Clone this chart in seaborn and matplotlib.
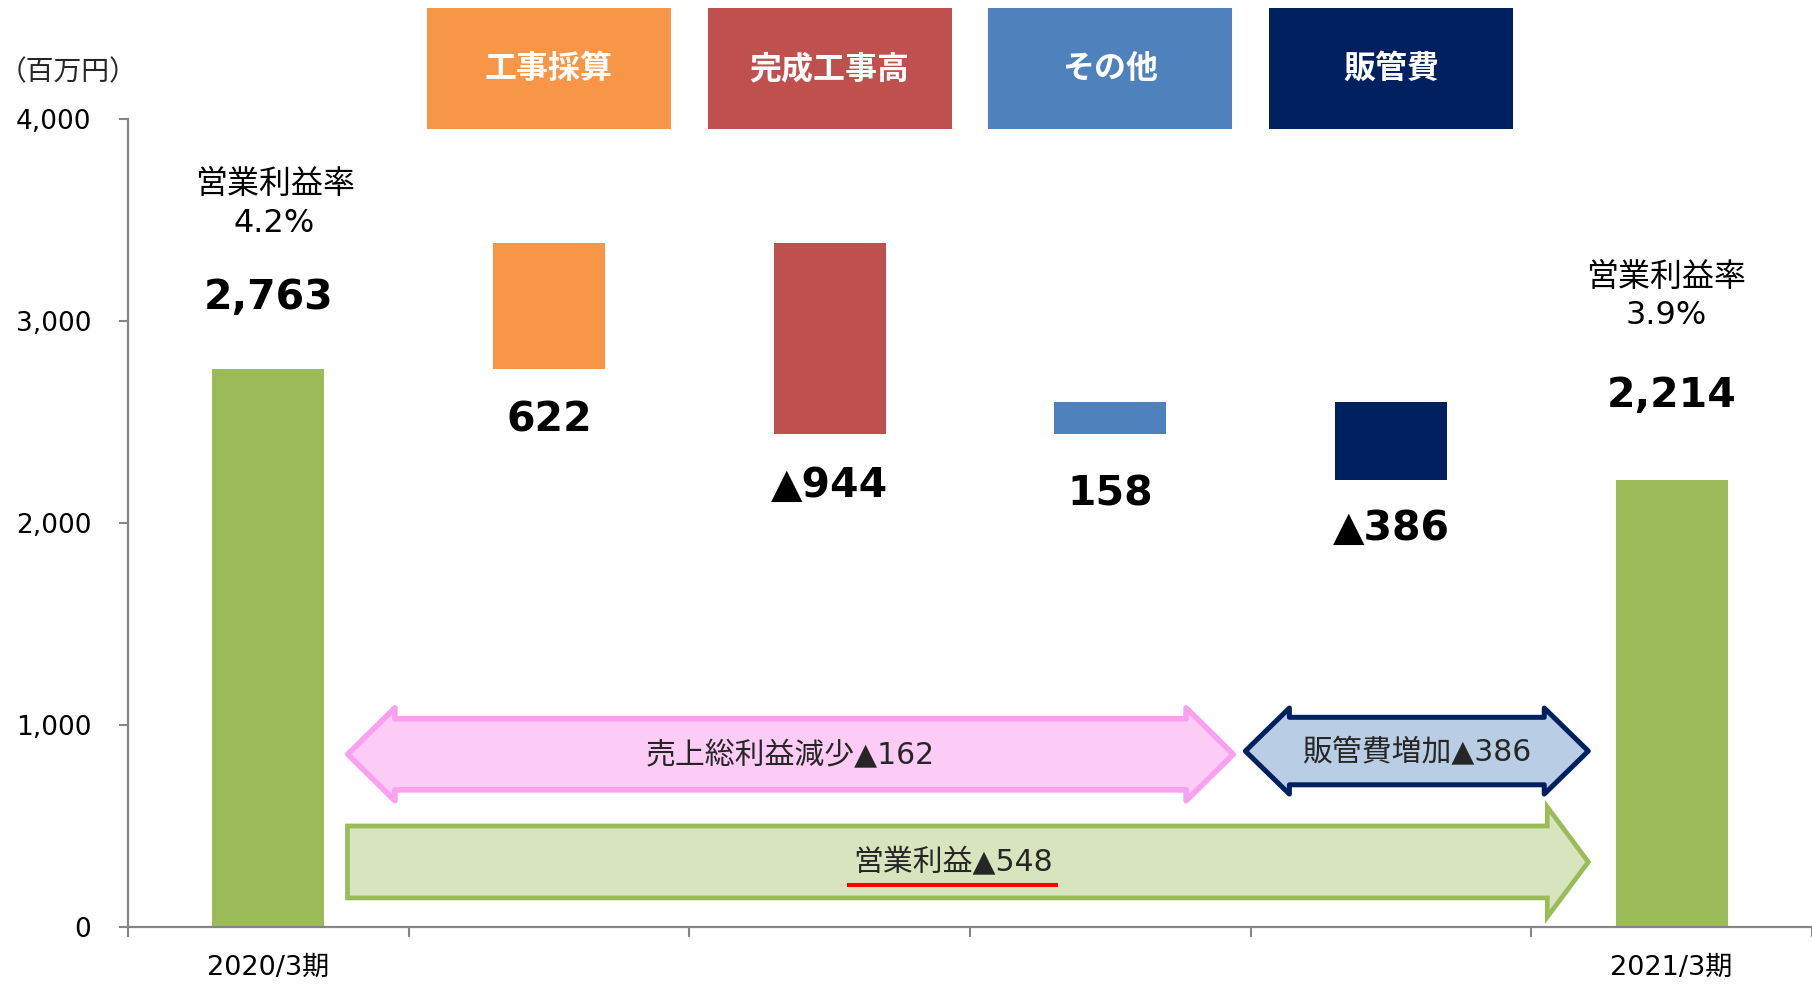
import numpy as np
import pandas as pd
import matplotlib
matplotlib.use('Agg')
import matplotlib.pyplot as plt
from matplotlib.patches import Polygon, Rectangle
from matplotlib.transforms import blended_transform_factory
import seaborn as sns

# ---------------- data ----------------
categories = ['2020/3期', '工事採算', '完成工事高', 'その他', '販管費', '2021/3期']
start_value = 2763
deltas = [622, -944, 158, -386]
end_value = 2214
value_labels = ['2,763', '622', '▲944', '158', '▲386', '2,214']
margin_title = '営業利益率'
margin_rates = ['4.2%', '3.9%']
xtick_labels = ['2020/3期', '', '', '', '', '2021/3期']
yticks = [0, 1000, 2000, 3000, 4000]
ytick_labels = ['0', '1,000', '2,000', '3,000', '4,000']
unit_label = '（百万円）'
header_labels = ['工事採算', '完成工事高', 'その他', '販管費']
arrow_labels = ['売上総利益減少▲162', '販管費増加▲386', '営業利益▲548']

bar_colors = ['#9BBB59', '#F79646', '#C0504D', '#4F81BD', '#002060', '#9BBB59']
header_colors = ['#F79646', '#C0504D', '#4F81BD', '#002060']

# waterfall geometry from data
bottoms, heights = [0], [start_value]
level = start_value
for d in deltas:
    new = level + d
    bottoms.append(min(level, new))
    heights.append(abs(d))
    level = new
bottoms.append(0)
heights.append(end_value)
tops = [b + h for b, h in zip(bottoms, heights)]

# ---------------- style ----------------
sns.set_style('white')
plt.rcParams['font.family'] = ['DejaVu Sans', 'Noto Sans CJK JP']
plt.rcParams['axes.unicode_minus'] = False

fig = plt.figure(figsize=(18.12, 9.84), dpi=100)
ax = fig.add_axes([128 / 1812, 1 - 927 / 984, 1 - 128 / 1812, (927 - 119) / 984])

df = pd.DataFrame({'cat': categories, 'h': heights})
sns.barplot(data=df, x='cat', y='h', order=categories, width=0.40,
            color=bar_colors[0], saturation=1, errorbar=None, ax=ax)
for p, b, c in zip(ax.patches, bottoms, bar_colors):
    p.set_y(b)
    p.set_facecolor(c)
    p.set_edgecolor('none')

ax.set_xlim(-0.5, len(categories) - 0.5)
ax.set_ylim(0, 4000)
ax.set_xlabel('')
ax.set_ylabel('')

# axes / ticks
axis_grey = '#868686'
for s in ['top', 'right']:
    ax.spines[s].set_visible(False)
for s in ['left', 'bottom']:
    ax.spines[s].set_color(axis_grey)
    ax.spines[s].set_linewidth(1.6)
ax.set_yticks(yticks)
ax.set_yticklabels(ytick_labels, fontsize=19, color='black')
ax.tick_params(axis='y', length=6.5, width=1.5, color=axis_grey, pad=20, left=True)
ax.set_xticks(np.arange(-0.5, len(categories), 1))
ax.set_xticklabels([])
ax.tick_params(axis='x', length=7, width=1.5, color=axis_grey, bottom=True, direction='out')

xl_trans = blended_transform_factory(ax.transData, ax.transAxes)
for i, lab in enumerate(xtick_labels):
    if lab:
        ax.text(i, -(968 - 927) / 808, lab, transform=xl_trans, ha='center', va='center',
                fontsize=19.5, color='black')

# value labels
label_offsets_pt = [51.3, -37, -37.2, -43.8, -35.6, 60.5]
for i, (lab, off) in enumerate(zip(value_labels, label_offsets_pt)):
    ref = tops[i] if off > 0 else bottoms[i]
    ax.annotate(lab, xy=(i, ref), xytext=(0, off), textcoords='offset points',
                ha='center', va='center', fontsize=29.5, fontweight='bold', color='black')

# margin texts for first and last bars
margin_offsets_pt = [(4.5, 133, 105), (-4, 146, 118.5)]
for idx, rate, (dx, o1, o2) in zip([0, len(categories) - 1], margin_rates, margin_offsets_pt):
    ax.annotate(margin_title, xy=(idx, tops[idx]), xytext=(dx, o1), textcoords='offset points',
                ha='center', va='center', fontsize=23, color='black')
    ax.annotate(rate, xy=(idx, tops[idx]), xytext=(dx, o2), textcoords='offset points',
                ha='center', va='center', fontsize=23, color='black')

# header boxes (centered on categories 1-4)
hb_trans = blended_transform_factory(ax.transData, fig.transFigure)
box_w = 0.87
for k, (lab, col) in enumerate(zip(header_labels, header_colors)):
    cx = k + 1
    ax.add_patch(Rectangle((cx - box_w / 2, 1 - 129 / 984), box_w, 121 / 984,
                           transform=hb_trans, facecolor=col, edgecolor='none',
                           clip_on=False, zorder=3))
    ax.text(cx, 1 - 69 / 984, lab, transform=hb_trans, ha='center', va='center',
            fontsize=23, fontweight='bold', color='white',
            family=['Noto Sans CJK JP', 'DejaVu Sans'], zorder=4)

fig.text(68 / 1812, 1 - 72 / 984, unit_label, ha='center', va='center', fontsize=20,
         family=['Noto Sans CJK JP', 'DejaVu Sans'])

# ---------------- block arrows ----------------
def double_arrow(x0, x1, yc, bh, hh, hl):
    return [(x0, yc), (x0 + hl, yc + hh), (x0 + hl, yc + bh), (x1 - hl, yc + bh),
            (x1 - hl, yc + hh), (x1, yc), (x1 - hl, yc - hh), (x1 - hl, yc - bh),
            (x0 + hl, yc - bh), (x0 + hl, yc - hh)]

def right_arrow(x0, x1, yc, bh, hh, hl):
    return [(x0, yc - bh), (x0, yc + bh), (x1 - hl, yc + bh), (x1 - hl, yc + hh),
            (x1, yc), (x1 - hl, yc - hh), (x1 - hl, yc - bh)]

pink = double_arrow(0.283, 3.438, 855, 176, 230, 0.168)
blue = double_arrow(3.481, 4.703, 871, 167, 213, 0.157)
green = right_arrow(0.282, 4.703, 322, 178, 272, 0.146)

ax.add_patch(Polygon(pink, closed=True, facecolor='#FCCCF7', edgecolor='#F9A0EE',
                     linewidth=4, joinstyle='round', zorder=2))
ax.add_patch(Polygon(blue, closed=True, facecolor='#B9CDE5', edgecolor='#002060',
                     linewidth=3.6, joinstyle='round', zorder=2))
ax.add_patch(Polygon(green, closed=True, facecolor='#D7E4BD', edgecolor='#9BBB59',
                     linewidth=3.4, joinstyle='miter', zorder=2))

ax.text(1.861, 850, arrow_labels[0], ha='center', va='center', fontsize=21.5, zorder=5)
ax.text(4.092, 866, arrow_labels[1], ha='center', va='center', fontsize=21.5, zorder=5)
ax.text(2.44, 318, arrow_labels[2], ha='center', va='center', fontsize=21.5, zorder=5)
ax.plot([2.061, 2.812], [208, 208], color='#FF0000', linewidth=2.9,
        solid_capstyle='butt', zorder=5)

fig.savefig('out.png', dpi=100)
